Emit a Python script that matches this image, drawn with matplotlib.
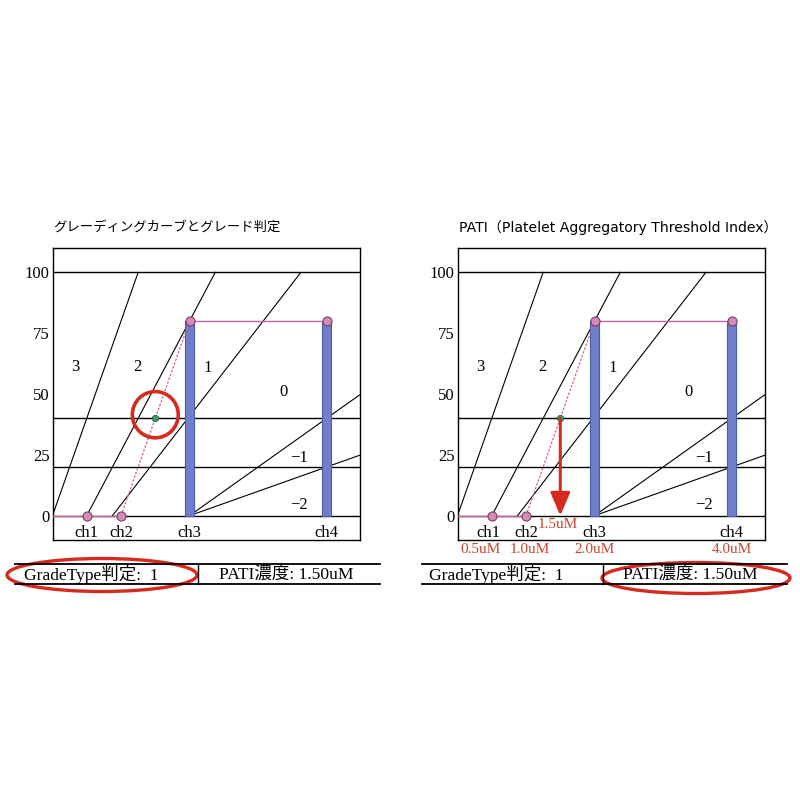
import matplotlib
matplotlib.use("Agg")
import matplotlib.pyplot as plt
from matplotlib.patches import Ellipse
from matplotlib.lines import Line2D

# ---------------- data ----------------
channels = ["ch1", "ch2", "ch3", "ch4"]
conc = [0.5, 1.0, 2.0, 4.0]              # uM
response = [0, 0, 80, 80]                # aggregation %
conc_labels = ["0.5uM", "1.0uM", "2.0uM", "4.0uM"]
pati_conc = 1.5
pati_level = 40
pati_label = "1.5uM"
ref_levels = [100, 40, 20, 0]
yticks = [0, 25, 50, 75, 100]
# grade boundary lines: (start conc at 0 %, slope % per uM)
bound_start = [0.0, 0.5, 0.875, 2.0, 2.0]
bound_slope = [80.0, 53.33, 36.36, 20.0, 10.0]
grade_names = ["3", "2", "1", "0", "\u22121", "\u22122"]
grade_x = [0.34, 1.24, 2.26, 3.37, 3.59, 3.59]
grade_y = [61, 61, 60.5, 51, 23.7, 4.5]
titles = ["グレーディングカーブとグレード判定",
          "PATI（Platelet Aggregatory Threshold Index）"]
result_grade = "GradeType判定:  1"
result_pati = "PATI濃度: 1.50uM"

XMAX, YMIN, YMAX = 4.48, -10, 110
SERIF = ["Liberation Serif", "Noto Sans CJK JP"]
GOTHIC = ["Noto Sans CJK JP", "DejaVu Sans"]
LATIN_GOTHIC = ["DejaVu Sans", "Noto Sans CJK JP"]
PINK = "#c7669f"
BAR = "#6f80c8"
RED = "#d62a1e"
REDTXT = "#c8452f"

fig = plt.figure(figsize=(8, 8), dpi=100)
W = H = 800.0


def draw_panel(ax, right):
    ax.set_xlim(0, XMAX)
    ax.set_ylim(YMIN, YMAX)
    for s in ax.spines.values():
        s.set_linewidth(1.0)
        s.set_color("black")
    ax.set_xticks([])
    ax.set_yticks(yticks)
    ax.set_yticklabels([str(v) for v in yticks], family=SERIF, fontsize=12)
    ax.tick_params(axis="y", length=0, pad=2)
    for lv in ref_levels:
        ax.axhline(lv, color="black", lw=1.0, zorder=1)
    # grade boundaries
    for x0, m in zip(bound_start, bound_slope):
        x1 = min(x0 + 100.0 / m, XMAX)
        ax.plot([x0, x1], [0, (x1 - x0) * m], color="black", lw=0.8, zorder=2)
    for name, gx, gy in zip(grade_names, grade_x, grade_y):
        ax.text(gx, gy, name, family=SERIF, fontsize=12, ha="center",
                va="center", zorder=5)
    # bars at ch3 / ch4
    ax.bar(conc[2:], response[2:], width=0.13, color=BAR,
           edgecolor="#4b5cae", lw=0.8, zorder=3)
    # response curve
    ax.plot([0, conc[0], conc[1]], [0, response[0], response[1]],
            color=PINK, lw=1.0, zorder=4)
    ax.plot(conc[1:3], response[1:3], color=PINK, lw=0.9, ls=(0, (2, 1.2)),
            zorder=4)
    ax.plot(conc[2:], response[2:], color=PINK, lw=1.0, zorder=4)
    ax.plot(conc, response, "o", ms=6.5, mfc="#d48bb8", mec="#7a3e66",
            mew=0.8, zorder=6)
    ax.plot([pati_conc], [pati_level], "o", ms=4.5, mfc="#3d9b5c",
            mec="#1f5e35", mew=0.6, zorder=7)
    for i, (ch, cx) in enumerate(zip(channels, conc)):
        off = -0.05 if (right and i == 0) else 0.0
        ax.text(cx + off, -7, ch, family=SERIF, fontsize=12, ha="center",
                va="center", zorder=5)
    if right:
        for i, (lab, cx) in enumerate(zip(conc_labels, conc)):
            off = -0.16 if i == 0 else 0.06 if i == 1 else 0.0
            ax.text(cx + off, -13.8, lab, family=SERIF, fontsize=11,
                    ha="center", va="center", color=REDTXT, clip_on=False)
        ax.text(pati_conc - 0.03, -3.7, pati_label, family=SERIF, fontsize=11,
                ha="center", va="center", color=REDTXT, zorder=5)
        ax.annotate("", xy=(pati_conc, 0), xytext=(pati_conc, pati_level),
                    arrowprops=dict(arrowstyle="-|>,head_length=0.7,head_width=0.3",
                                    mutation_scale=20, color=RED, lw=2.2,
                                    shrinkA=0, shrinkB=0), zorder=8)
    else:
        ax.add_patch(Ellipse((pati_conc, pati_level + 1.5), 0.67, 19.0,
                             fill=False, ec=RED, lw=2.6, zorder=8))


axL = fig.add_axes([52.5 / W, 1 - 540 / H, 307 / W, 292 / H])
axR = fig.add_axes([457.5 / W, 1 - 540 / H, 307 / W, 292 / H])
draw_panel(axL, False)
draw_panel(axR, True)

fig.text(53 / W, 1 - 228 / H, titles[0], family=GOTHIC, fontsize=9.6,
         ha="left", va="center")
fig.text(459 / W, 1 - 228 / H, titles[1], family=LATIN_GOTHIC, fontsize=10.1,
         ha="left", va="center")

# result tables
for (x0, xd, x1, cg, cp) in [(15, 198, 380, 91, 286), (422, 603, 787, 496, 690)]:
    for yy in (564, 584):
        fig.add_artist(Line2D([x0 / W, x1 / W], [1 - yy / H] * 2,
                              color="black", lw=1.3))
    fig.add_artist(Line2D([xd / W] * 2, [1 - 564 / H, 1 - 584 / H],
                          color="black", lw=1.0))
    fig.text(cg / W, 1 - 575 / H, result_grade, family=SERIF, fontsize=12.6,
             ha="center", va="center")
    fig.text(cp / W, 1 - 575 / H, result_pati, family=SERIF, fontsize=12.6,
             ha="center", va="center")

fig.add_artist(Ellipse((102 / W, 1 - 575 / H), 190 / W, 33 / H, fill=False,
                       ec=RED, lw=2.4, transform=fig.transFigure))
fig.add_artist(Ellipse((696 / W, 1 - 578 / H), 188 / W, 31 / H, fill=False,
                       ec=RED, lw=2.4, transform=fig.transFigure))

fig.savefig("out.png", dpi=100, facecolor="white")
